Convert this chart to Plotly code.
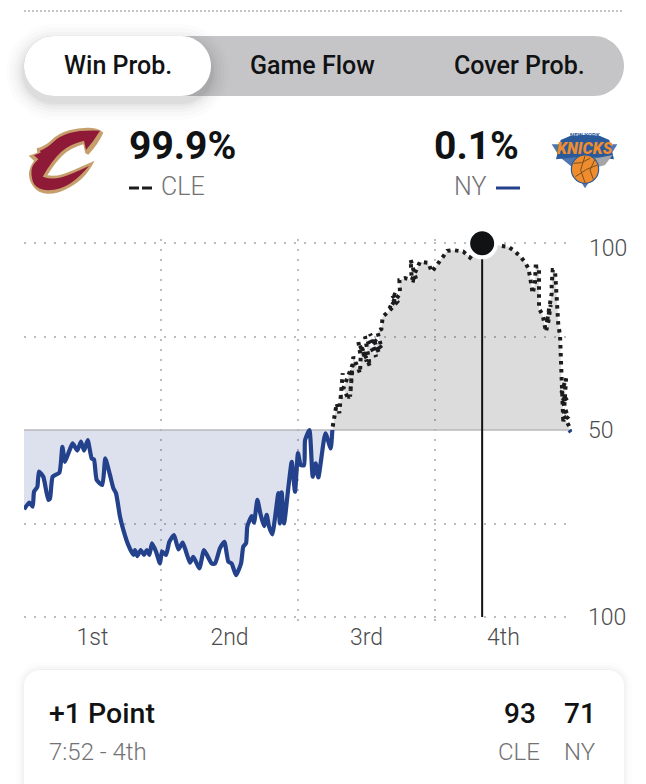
import plotly.graph_objects as go

WIDTH, HEIGHT = 646, 784

# Game clock in elapsed minutes, New York side of the curve (win share below 50).
ny_minutes = [0, .47, .76, .88, 1.17, 1.31, 1.69, 2.13, 2.28, 2.51, 3.10, 3.36, 3.59, 3.94, 4.26, 4.67, 4.99,
              5.26, 5.58, 5.93, 6.13, 6.37, 6.86, 7.12, 7.53, 7.83, 8.06, 8.41, 8.70, 9.14, 9.58, 9.72, 9.93,
              10.22, 10.51, 10.75, 10.98, 11.21, 11.56, 11.91, 12.09, 12.44, 12.73, 13.14, 13.52, 13.90, 14.19,
              14.54, 14.83, 15.36, 15.77, 16.44, 16.73, 17.17, 17.55, 17.90, 18.19, 18.57, 19.01, 19.21, 19.45,
              19.56, 19.94, 20.15, 20.44, 20.73, 21.02, 21.26, 21.46, 21.75, 22.28, 22.40, 22.57, 22.78, 23.18,
              23.45, 23.74, 24.0, 24.24, 24.53, 24.62, 25.0, 25.29, 25.55, 25.78, 26.4, 26.86, 27.01]
ny_pct = [28.8, 30.6, 29.5, 33.5, 34.8, 38.9, 37.5, 31.3, 31.7, 37.5, 38.6, 45.5, 41.5, 44.2, 46.4, 44.5, 46.9,
          44.5, 47.3, 42.4, 42.1, 36.6, 35.3, 42.4, 38.0, 34.4, 33.1, 26.8, 23.3, 19.2, 16.6, 17.9, 16.3,
          17.9, 16.6, 17.9, 16.6, 19.7, 17.5, 14.3, 17.5, 16.6, 20.1, 21.9, 18.1, 19.9, 17.5,
          14.5, 16.1, 13.0, 17.9, 14.3, 14.3, 18.4, 20.1, 14.8, 14.3, 11.2, 14.3, 18.8, 19.7,
          24.2, 27.0, 25.2, 31.3, 27.3, 24.3, 27.3, 24.2, 22.1, 33.1, 25.0, 33.3, 25.0, 35.3,
          41.5, 33.5, 43.8, 40.6, 40.6, 47.3, 50.0, 37.5, 41.1, 37.3, 49.1, 45.1, 50.0]

# Cleveland side of the curve (win share above 50).
cle_minutes = [27.04, 27.39, 27.62, 27.92, 27.74, 28.32, 27.97, 28.76, 28.56, 28.85, 29.43, 29.49, 29.29, 30.02,
               29.60, 30.30, 29.87, 30.84, 30.31, 31.10, 30.60, 31.33, 30.95, 31.30, 31.42, 31.92, 32.70, 32.12,
               32.65, 32.00, 32.94, 32.88, 33.38, 34.40, 33.87,
               33.96, 34.69, 35.42, 35.71, 36.38, 36.73, 37.08, 37.61, 38.05, 38.48, 39.07, 40.13, 41.84, 42.43,
               42.92, 43.45, 43.89, 44.18, 44.32, 44.56, 44.76, 44.82, 45.11, 45.11, 45.43, 45.72, 45.93, 46.13,
               45.78, 46.22, 46.22, 46.31, 46.51, 46.66, 46.80, 46.95, 47.01, 47.10, 47.24, 47.48, 47.10, 47.62,
               47.10, 47.68, 47.24, 47.77]
cle_pct = [50.9, 57.1, 54.5, 65.2, 58.9, 58.9, 61.1, 67.4, 58.9, 69.6, 65.2, 69.6, 73.6, 68.3,
           72.0, 67.0, 75.0, 69.6, 75.7, 70.5, 74.5, 71.8, 76.3, 77.0, 80.3, 81.6, 84.3, 86.5,
           86.0, 82.5, 86.5, 90.1, 90.6, 89.7, 95.5,
           90.1, 95.0, 94.7, 92.3, 95.0, 96.6, 97.9, 98.1, 97.9, 97.7, 96.1, 99.9, 99.2, 99.0,
           97.9, 96.5, 94.8, 93.2, 91.0, 86.5, 89.5, 93.7, 93.7, 82.5, 80.7, 76.3, 79.0, 83.4,
           78.5, 86.5, 88.8, 92.8, 92.8, 86.1, 78.1, 75.4, 69.2, 62.5, 51.8, 63.8, 60.2, 57.6,
           58.5, 53.1, 54.0, 50.9]

# Last moments, when the curve dips back under the midline.
ny_final_minutes = [47.77, 47.91]
ny_final_pct = [50.0, 49.4]

# Selected play.
play_minute = 40.13
play_pct = 99.9

quarter_ends = [12, 24, 36]
quarter_centres = [6, 18, 30, 42]
quarter_names = ["1st", "2nd", "3rd", "4th"]
pct_ticks = [0, 50]
pct_tick_text = ["100", "50"]
pct_grid = [0, 25, 75, 100]

tab_names = ["Win Prob.", "Game Flow", "Cover Prob."]
cle_share, ny_share = "99.9%", "0.1%"

NAVY = "#24418c"
INK = "#111214"
GREY_TEXT = "#727274"
AXIS_TEXT = "#4c4c4e"
GRID = "#bdbdbf"
FONT = "Roboto"
PCT_PAD = 1.0          # value axis runs a touch past 0-100 so the outer grid rows are kept
PX_PER_PCT = 3.74


def px(x):
    return x / WIDTH


def py(y):
    return 1 - y / HEIGHT


def rounded(x0, y0, x1, y1, r, fill, opacity=1.0):
    """Rounded rectangle given in page pixels."""
    k = 0.45 * r
    pts = [("M", x0 + r, y0), ("L", x1 - r, y0), ("C", x1 - k, y0, x1, y0 + k, x1, y0 + r),
           ("L", x1, y1 - r), ("C", x1, y1 - k, x1 - k, y1, x1 - r, y1), ("L", x0 + r, y1),
           ("C", x0 + k, y1, x0, y1 - k, x0, y1 - r), ("L", x0, y0 + r), ("C", x0, y0 + k, x0 + k, y0, x0 + r, y0)]
    path = ""
    for p in pts:
        coords = p[1:]
        path += p[0] + " ".join(
            f"{px(coords[i]):.5f},{py(coords[i + 1]):.5f}" for i in range(0, len(coords), 2)) + " "
    return dict(type="path", xref="paper", yref="paper", path=path + "Z", fillcolor=fill,
                line=dict(width=0), opacity=opacity, layer="below")


def outline(points, fill, ox, oy, scale=1 / 3):
    """Closed crest outline: three-value points are sharp corners, the rest are rounded off."""
    def at(p):
        return f"{px(ox + p[0] * scale):.5f},{py(oy + p[1] * scale):.5f}"

    n = len(points)
    first = points[0]
    path = "M" + at(first)
    for i in range(1, n + 1):
        p = points[i % n]
        nxt = points[(i + 1) % n]
        if len(p) == 3:
            path += " L" + at(p)
        else:
            mid = ((p[0] + nxt[0]) / 2, (p[1] + nxt[1]) / 2)
            end = nxt if len(nxt) == 3 else mid
            path += " Q" + at(p) + " " + at(end)
    return dict(type="path", xref="paper", yref="paper", path=path + " Z", fillcolor=fill,
                line=dict(width=0), layer="below")


def seam(points, ox, oy, color, width=1.0, scale=1 / 3):
    path = "M" + " L".join(f"{px(ox + a * scale):.5f},{py(oy + b * scale):.5f}" for a, b in points)
    return dict(type="path", xref="paper", yref="paper", path=path,
                line=dict(width=width, color=color), layer="below")


def label(text, x, y, size, color=INK, anchor="left", weight=400, family=FONT, angle=0):
    return dict(text=text, x=px(x), y=py(y), xref="paper", yref="paper", showarrow=False,
                xanchor=anchor, yanchor="middle", textangle=angle,
                font=dict(size=size, color=color, family=family, weight=weight))


fig = go.Figure()

# Shaded areas between each side of the curve and the midline.
fig.add_trace(go.Scatter(x=[ny_minutes[0]] + ny_minutes + [ny_minutes[-1]], y=[50] + ny_pct + [50], mode="none",
                         fill="toself", fillcolor="rgba(36,65,140,0.155)", hoverinfo="skip"))
fig.add_trace(go.Scatter(x=[cle_minutes[0]] + cle_minutes + [cle_minutes[-1]], y=[50] + cle_pct + [50], mode="none",
                         fill="toself", fillcolor="rgba(0,0,0,0.137)", hoverinfo="skip"))
# Midline
fig.add_trace(go.Scatter(x=[0, 48], y=[50, 50], mode="lines", line=dict(color="#b9b9bd", width=1.5),
                         hoverinfo="skip"))
# Win probability curves
fig.add_trace(go.Scatter(x=ny_minutes, y=ny_pct, mode="lines", cliponaxis=False,
                         line=dict(color=NAVY, width=4.2, shape="spline", smoothing=0.5)))
fig.add_trace(go.Scatter(x=ny_final_minutes, y=ny_final_pct, mode="lines", line=dict(color=NAVY, width=4.2),
                         cliponaxis=False))
fig.add_trace(go.Scatter(x=cle_minutes, y=cle_pct, mode="lines",
                         line=dict(color="#1c1c1e", width=4, dash="3.5px,4.5px"), cliponaxis=False))
# Selected play: vertical rule and marker
fig.add_trace(go.Scatter(x=[play_minute, play_minute], y=[0, play_pct], mode="lines",
                         line=dict(color=INK, width=2), cliponaxis=False))
fig.add_trace(go.Scatter(x=[play_minute], y=[play_pct], mode="markers", cliponaxis=False,
                         marker=dict(size=28, color=INK, line=dict(color="white", width=4))))

shapes = [
    # Dotted rule at the top of the page
    dict(type="line", xref="paper", yref="paper", x0=px(24), x1=px(624), y0=py(11), y1=py(11),
         line=dict(color="#c4c4c6", width=2, dash="2px,2px"), layer="below"),
    # Tab bar
    rounded(24, 36, 624, 96, 30, "#c5c5c7"),
]
# Soft shadow under the active tab
for grow, alpha in ((18, .012), (14, .016), (10, .02), (7, .025), (4, .03), (2, .03)):
    shapes.append(rounded(24 - grow, 36 - grow + 6, 211 + grow, 96 + grow + 6, 30 + grow, "#000000", alpha))
shapes.append(rounded(24, 36, 211, 96, 30, "#ffffff"))

# Card shadow and card
for grow, alpha in ((8, .008), (5, .012), (3, .016), (1, .02)):
    shapes.append(rounded(24 - grow, 670 - grow, 624 + grow, 810, 16 + grow, "#000000", alpha))
shapes.append(rounded(24, 670, 624, 810, 16, "#ffffff"))

# Cleveland crest
LOGO_L = (20, 120)
cavs_gold = [(26, 107, 1), (52, 98, 1), (50, 85, 1), (74, 80), (115, 40), (180, 22), (238, 25), (250, 38, 1),
             (235, 72), (205, 104, 1), (196, 100, 1), (190, 73, 1), (150, 85), (105, 128), (82, 166, 1),
             (105, 170), (150, 155), (224, 122, 1), (205, 158), (165, 195), (105, 224), (55, 218), (28, 185),
             (26, 145), (42, 122, 1)]
cavs_wine = [(42, 106, 1), (62, 98, 1), (60, 92, 1), (80, 85), (118, 48), (180, 30), (240, 32, 1), (222, 62),
             (198, 90, 1), (192, 62, 1), (150, 72), (98, 118), (68, 170, 1), (95, 180), (150, 165),
             (207, 138, 1), (180, 170), (130, 205), (75, 213), (42, 198), (33, 165), (36, 135), (55, 118, 1)]
shapes.append(outline(cavs_gold, "#c79f6d", *LOGO_L))
shapes.append(outline(cavs_wine, "#8f1a38", *LOGO_L))

# New York crest
LOGO_R = (540, 120)
knicks_wing = [(35, 73, 1), (232, 73, 1), (208, 112, 1), (180, 135, 1), (135, 205, 1), (95, 140, 1), (60, 112, 1)]
knicks_back = [(62, 60, 1), (90, 48, 1), (135, 44, 1), (180, 48, 1), (208, 60, 1), (222, 118, 1), (165, 112, 1),
               (105, 112, 1), (48, 118, 1)]
knicks_grey = [(160, 116, 1), (218, 105, 1), (195, 135, 1), (172, 142, 1)]
shapes.append(outline(knicks_wing, "#4f76ad", *LOGO_R))
shapes.append(outline(knicks_back, "#2b5a9a", *LOGO_R))
shapes.append(outline(knicks_grey, "#a3a5a8", *LOGO_R))
shapes.append(dict(type="circle", xref="paper", yref="paper", x0=px(540 + 94 / 3), x1=px(540 + 176 / 3),
                   y0=py(120 + 105 / 3), y1=py(120 + 190 / 3), fillcolor="#ee8c2e",
                   line=dict(color="#2b5a9a", width=1.2), layer="below"))
shapes.append(seam([(100, 130), (125, 128), (150, 115)], *LOGO_R, "#7a5020", 1))
shapes.append(seam([(135, 108), (122, 150), (135, 188)], *LOGO_R, "#7a5020", 1))
shapes.append(seam([(106, 170), (140, 148), (172, 135)], *LOGO_R, "#7a5020", 1))
shapes.append(seam([(165, 118), (150, 150), (160, 178)], *LOGO_R, "#7a5020", 1))

# Legend keys beside the team labels
shapes.append(dict(type="line", xref="paper", yref="paper", x0=px(129), x1=px(139), y0=py(188), y1=py(188),
                   line=dict(color="#1c1c1e", width=3), layer="below"))
shapes.append(dict(type="line", xref="paper", yref="paper", x0=px(142), x1=px(152), y0=py(188), y1=py(188),
                   line=dict(color="#1c1c1e", width=3), layer="below"))
shapes.append(dict(type="line", xref="paper", yref="paper", x0=px(496), x1=px(520), y0=py(188), y1=py(188),
                   line=dict(color=NAVY, width=3), layer="below"))

annotations = [
    label(tab_names[0], 118, 65, 25, anchor="center", weight=500),
    label(tab_names[1], 312, 65, 25, anchor="center", weight=500),
    label(tab_names[2], 519, 65, 25, anchor="center", weight=500),
    label(cle_share, 127, 146, 39, weight=700),
    label(ny_share, 521, 146, 39, anchor="right", weight=700),
    label("CLE", 159, 187, 25, GREY_TEXT, weight=300),
    label("NY", 488, 187, 25, GREY_TEXT, anchor="right", weight=300),
    label("NEW YORK", 585, 134, 6, "#2b5a9a", anchor="center", weight=700),
    label("<i>KNICKS</i>", 585, 149, 16, "#ee8c2e", anchor="center", weight=900),
    label("100", 587, 248, 23, AXIS_TEXT, weight=300),
    label("+1 Point", 47, 713, 28.5, weight=500),
    label("7:52 - 4th", 47, 752, 24, GREY_TEXT, weight=300),
    label("93", 538, 713, 28, anchor="right", weight=500),
    label("71", 598, 713, 28, anchor="right", weight=500),
    label("CLE", 542, 752, 24, GREY_TEXT, anchor="right", weight=300),
    label("NY", 598, 752, 24, GREY_TEXT, anchor="right", weight=300),
]

fig.update_layout(
    width=WIDTH, height=HEIGHT, margin=dict(l=0, r=0, t=0, b=0), autosize=False,
    paper_bgcolor="white", plot_bgcolor="rgba(0,0,0,0)", showlegend=False, hovermode=False,
    font=dict(family=FONT, color=AXIS_TEXT),
    shapes=shapes, annotations=annotations,
    xaxis=dict(domain=[px(24), px(572)], range=[0, 48], fixedrange=True, zeroline=False, showline=False,
               automargin=False, showgrid=False, tickmode="array", tickvals=quarter_centres,
               ticktext=quarter_names, ticklen=0, ticklabelstandoff=0,
               tickfont=dict(size=23, color=AXIS_TEXT, weight=300),
               minor=dict(tickmode="array", tickvals=quarter_ends, showgrid=True, gridcolor=GRID, gridwidth=1.6,
                          griddash="1.6px,8.4px", ticklen=0)),
    yaxis=dict(domain=[py(617 + PCT_PAD * PX_PER_PCT), py(243 - PCT_PAD * PX_PER_PCT)],
               range=[-PCT_PAD, 100 + PCT_PAD], fixedrange=True, zeroline=False, showline=False,
               automargin=False, showgrid=False, side="right", tickmode="array", tickvals=pct_ticks,
               ticktext=pct_tick_text, ticklen=0, ticklabelstandoff=15,
               tickfont=dict(size=23, color=AXIS_TEXT, weight=300),
               minor=dict(tickmode="array", tickvals=pct_grid, showgrid=True, gridcolor=GRID, gridwidth=1.6,
                          griddash="1.6px,8.4px", ticklen=0)),
)

fig.write_html("out.html", config={"displayModeBar": False})
